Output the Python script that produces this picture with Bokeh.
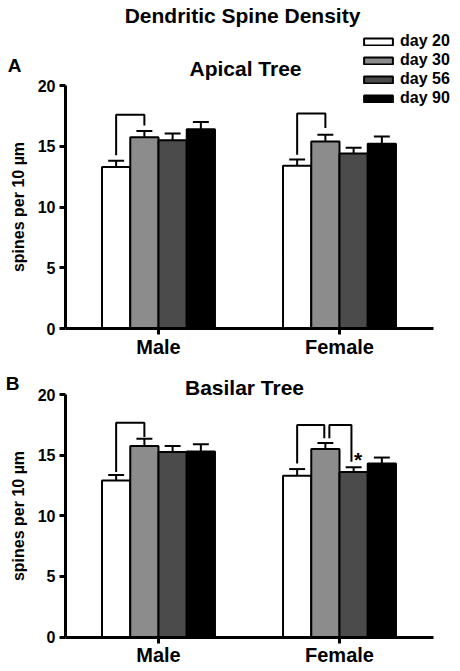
from bokeh.plotting import figure
from bokeh.models import (Range1d, FixedTicker, Label, Legend, LegendItem, ColumnDataSource,
                          LinearAxis)
from bokeh.embed import file_html
from bokeh.resources import INLINE
from bokeh.core.properties import value

# ---------------- data ----------------
groups = ["Male", "Female"]
days = ["day 20", "day 30", "day 56", "day 90"]
colors = ["#ffffff", "#8c8c8c", "#4b4b4b", "#000000"]

apical_male = [13.3, 15.75, 15.5, 16.4]
apical_female = [13.4, 15.4, 14.4, 15.2]
apical_male_sem = [0.5, 0.5, 0.55, 0.6]
apical_female_sem = [0.5, 0.55, 0.47, 0.6]

basilar_male = [12.9, 15.75, 15.25, 15.3]
basilar_female = [13.3, 15.5, 13.6, 14.3]
basilar_male_sem = [0.47, 0.6, 0.5, 0.6]
basilar_female_sem = [0.55, 0.5, 0.4, 0.5]

y_ticks = [0, 5, 10, 15, 20]

# significance brackets: (group, bar a, bar b, top, bottom at a, bottom at b, nudge a, nudge b)
apical_brackets = [(0, 0, 1, 17.6, 14.25, 16.7, 0.0, 0.0),
                   (1, 0, 1, 17.7, 14.3, 16.5, 0.0, 0.0)]
basilar_brackets = [(0, 0, 1, 17.67, 13.6, 16.5, 0.0, 0.0),
                    (1, 0, 1, 17.48, 14.3, 16.4, 0.0, -0.006),
                    (1, 1, 2, 17.48, 16.4, 14.45, 0.022, -0.012)]
basilar_star = (1, 2, 14.6)  # group, bar, y

FONT = "Liberation Sans"
BAR_W = 0.156
W, H = 460, 671
X_AXIS_LEFT = 0.486
X_AXIS_RIGHT = 2.519

p = figure(width=W, height=H, x_range=Range1d(0.1271, 2.6685), y_range=Range1d(0, 1),
           x_axis_type=None, y_axis_type=None, output_backend="svg", toolbar_location=None,
           min_border=0)
p.extra_y_ranges = {"A": Range1d(-28.23, 26.996), "B": Range1d(-2.845, 52.495)}
p.xgrid.visible = False
p.ygrid.visible = False
p.outline_line_color = None
p.background_fill_color = "white"
p.border_fill_color = "white"


def bar_x(g, j):
    return g + 1 + (j - 1.5) * BAR_W


def style_axis(ax):
    ax.axis_line_width = 3
    ax.major_tick_line_width = 3
    ax.major_tick_in = 0
    ax.major_tick_out = 6
    ax.minor_tick_line_color = None
    ax.major_label_text_font = FONT
    ax.major_label_text_font_style = "bold"
    ax.major_label_text_color = "black"
    ax.axis_line_color = "black"
    ax.major_tick_line_color = "black"


def draw_panel(rn, male, female, male_sem, female_sem, brackets, star=None):
    means = [male, female]
    sems = [male_sem, female_sem]
    renderers = []
    for j, day in enumerate(days):
        xs = [bar_x(g, j) for g in range(len(groups))]
        tops = [means[g][j] for g in range(len(groups))]
        errs = [means[g][j] + sems[g][j] for g in range(len(groups))]
        src = ColumnDataSource(dict(x=xs, top=tops, err=errs,
                                    x0=[x - 0.044 for x in xs], x1=[x + 0.044 for x in xs]))
        r = p.vbar(x="x", top="top", bottom=0, width=BAR_W, source=src, y_range_name=rn,
                   fill_color=colors[j], line_color="black", line_width=2)
        renderers.append(r)
        p.segment(x0="x", y0="top", x1="x", y1="err", source=src, y_range_name=rn,
                  line_color="black", line_width=2)
        p.segment(x0="x0", y0="err", x1="x1", y1="err", source=src, y_range_name=rn,
                  line_color="black", line_width=2)

    for (g, a, b, top, ya, yb, na, nb) in brackets:
        xa = bar_x(g, a) + na
        xb = bar_x(g, b) + nb
        p.line(x=[xa, xa, xb, xb], y=[ya, top, top, yb], y_range_name=rn,
               line_color="black", line_width=2)

    if star is not None:
        g, j, ys = star
        p.text(x=[bar_x(g, j) + 0.024], y=[ys], text=["*"], y_range_name=rn,
               text_font=value(FONT), text_font_style="bold", text_font_size="21px",
               text_align="center", text_baseline="middle", text_color="black")

    xax = LinearAxis(y_range_name=rn, fixed_location=0, bounds=(X_AXIS_LEFT, X_AXIS_RIGHT),
                     ticker=FixedTicker(ticks=[1, 2]))
    xax.major_label_overrides = {1: groups[0], 2: groups[1]}
    style_axis(xax)
    xax.major_label_text_font_size = "20px"
    xax.major_label_standoff = 1
    p.add_layout(xax, "below")

    yax = LinearAxis(y_range_name=rn, fixed_location=X_AXIS_LEFT, bounds=(0, 20),
                     ticker=FixedTicker(ticks=y_ticks))
    style_axis(yax)
    yax.major_label_text_font_size = "16px"
    yax.major_label_standoff = 4
    yax.axis_label = "spines per 10 µm"
    yax.axis_label_text_font = FONT
    yax.axis_label_text_font_style = "bold"
    yax.axis_label_text_font_size = "16px"
    yax.axis_label_text_color = "black"
    yax.axis_label_standoff = 8
    p.add_layout(yax, "left")
    return renderers


rA = draw_panel("A", apical_male, apical_female, apical_male_sem, apical_female_sem,
                apical_brackets)
rB = draw_panel("B", basilar_male, basilar_female, basilar_male_sem, basilar_female_sem,
                basilar_brackets, star=basilar_star)


def add_text(x, y, text, size):
    p.add_layout(Label(x=x, y=H - y, x_units="screen", y_units="screen", text=text,
                       text_font=FONT, text_font_style="bold", text_font_size=size,
                       text_align="center", text_baseline="middle", text_color="black"))


add_text(242, 15, "Dendritic Spine Density", "21px")
add_text(14, 65, "A", "19px")
add_text(245, 68, "Apical Tree", "21px")
add_text(12, 383, "B", "19px")
add_text(244, 387, "Basilar Tree", "21px")

items = [LegendItem(label=d, renderers=[r]) for d, r in zip(days, rA)]
lg = Legend(items=items, location=(360, H - 107), padding=0, margin=0, spacing=1,
            glyph_width=36, glyph_height=9, label_height=15, label_standoff=4,
            label_text_font=FONT, label_text_font_style="bold",
            label_text_font_size="16px", label_text_color="black", border_line_alpha=0,
            background_fill_alpha=0)
p.add_layout(lg)

open("out.html", "w").write(file_html(p, INLINE))
